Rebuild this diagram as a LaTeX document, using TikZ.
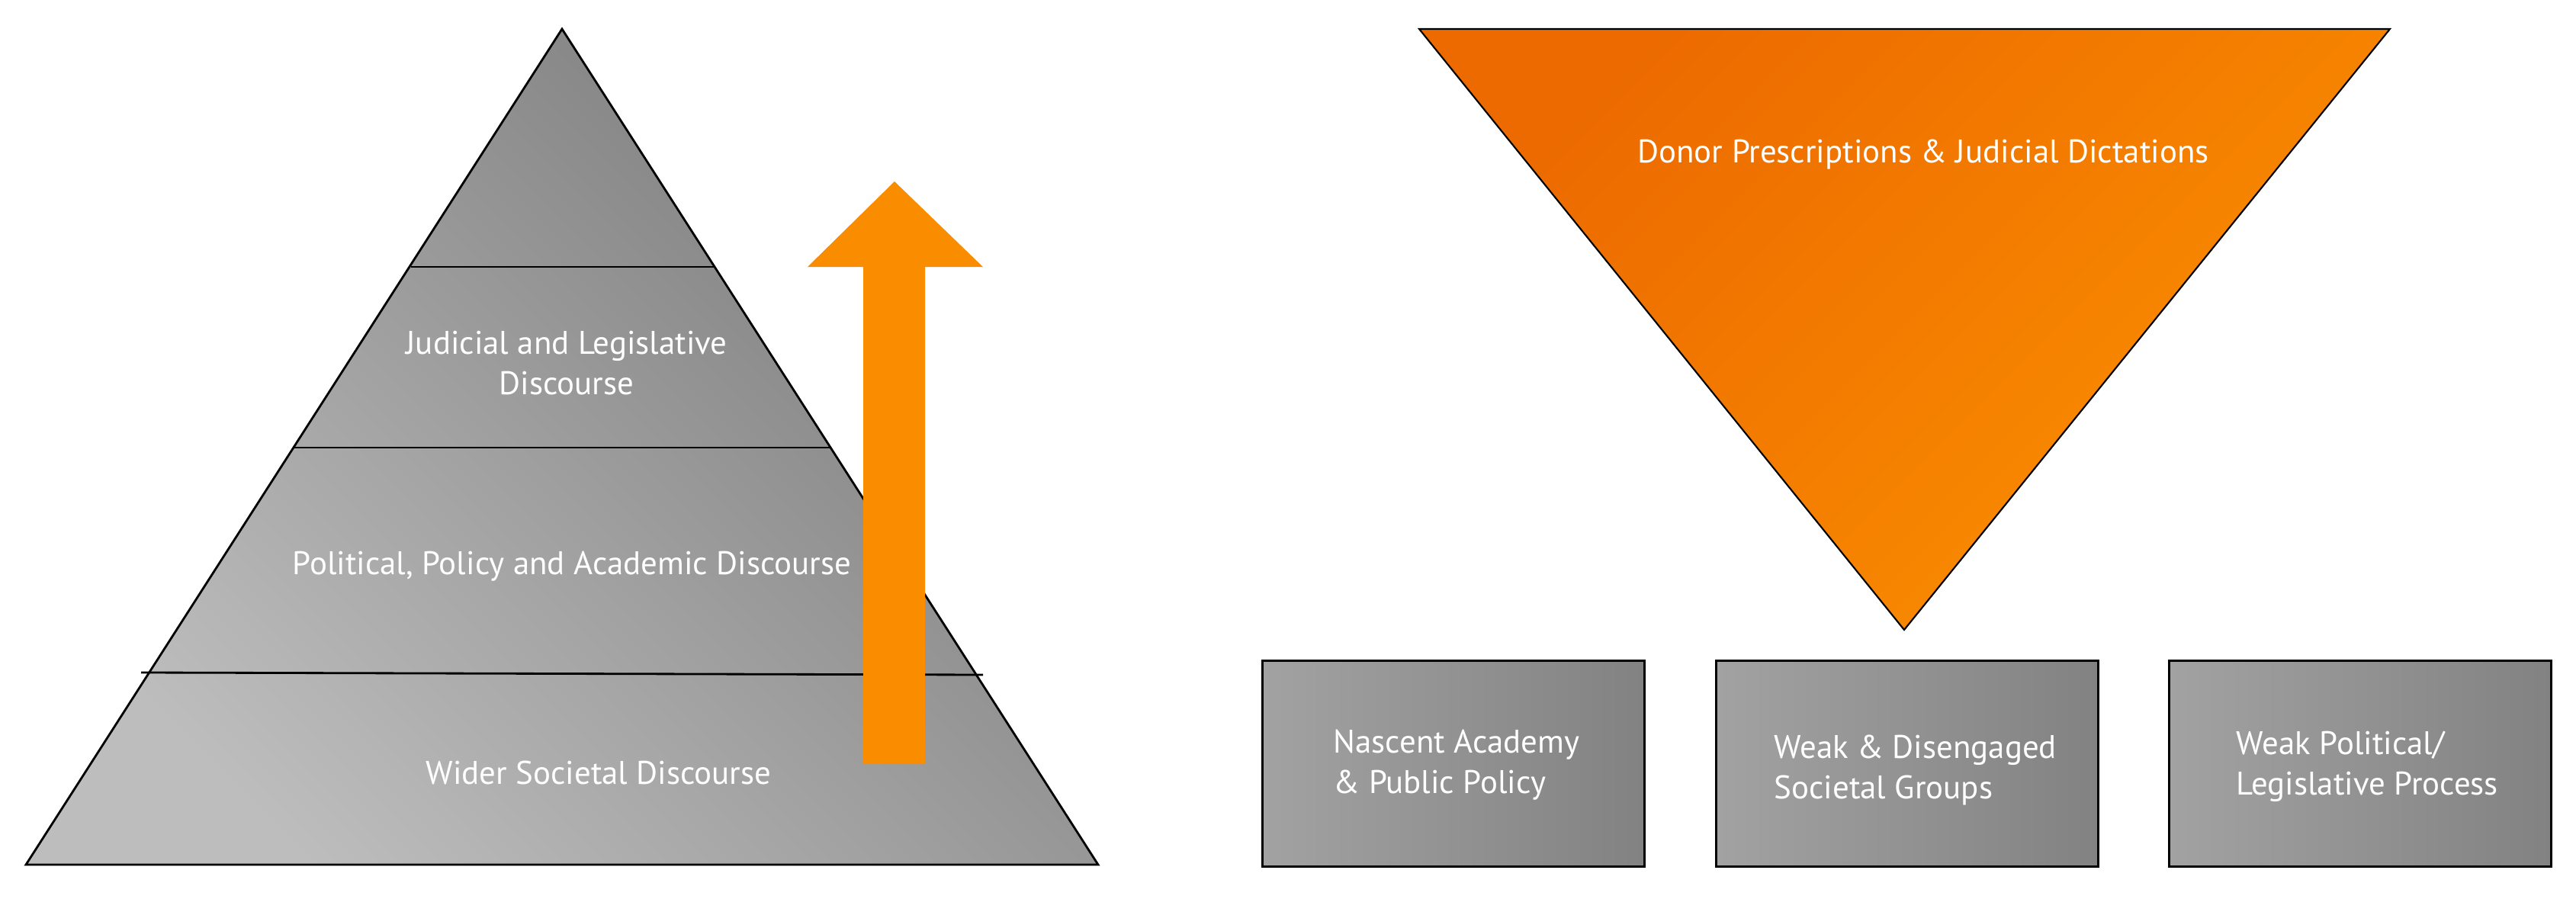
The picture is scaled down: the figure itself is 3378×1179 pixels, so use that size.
\documentclass[tikz,border=0pt]{standalone}
\usepackage{fontspec}
\setmainfont{PT Sans}
\definecolor{pyrL}{HTML}{BDBDBD}
\definecolor{pyrD}{HTML}{7C7C7C}
\definecolor{boxL}{HTML}{A2A2A2}
\definecolor{boxR}{HTML}{828282}
\definecolor{orD}{HTML}{EC6A00}
\definecolor{orL}{HTML}{FB8F00}
\definecolor{arrowC}{HTML}{FA8C00}
\begin{document}
\begin{tikzpicture}[x=0.01cm,y=-0.01cm,
  lbl/.style={text=white, font=\fontsize{12.2}{15}\selectfont, inner sep=0pt, align=center},
  boxlbl/.style={lbl, align=left, anchor=west},
  rule/.style={draw=black, line width=0.8pt},
  gbox/.style={draw=black, line width=0.8pt, left color=boxL, right color=boxR,
    minimum width=5.01cm, minimum height=2.70cm, anchor=north west, inner sep=0pt}]
\useasboundingbox (0,0) rectangle (3378,1179);
% pyramid
\coordinate (apex) at (737,38);
\coordinate (pl) at (34,1134);
\coordinate (pr) at (1440,1134);
\path[rule, bottom color=pyrL, top color=pyrD, shading angle=-45]
  (pl) -- (apex) -- (pr) -- cycle;
\coordinate (l1a) at (539,350); \coordinate (l1b) at (936,350);
\coordinate (l2a) at (385,587); \coordinate (l2b) at (1090,587);
\coordinate (l3a) at (185,882); \coordinate (l3b) at (1289,885);
\draw[rule] (l1a) -- (l1b);
\draw[rule] (l2a) -- (l2b);
\draw[rule] (l3a) -- (l3b);
% arrow
\coordinate (as1) at (1132,1002);
\coordinate (as2) at (1132,350);
\coordinate (ah1) at (1059,350);
\coordinate (atip) at (1173,238);
\coordinate (ah2) at (1289,350);
\coordinate (as3) at (1213,350);
\coordinate (as4) at (1213,1002);
\fill[arrowC] (as1) -- (as2) -- (ah1) -- (atip) -- (ah2) -- (as3) -- (as4) -- cycle;
% pyramid labels
\node[lbl] (jud) at (743,476) {Judicial and Legislative\\Discourse};
\node[lbl] (pol) at (750,743) {Political, Policy and Academic Discourse};
\node[lbl] (wid) at (785,1013) {Wider Societal Discourse};
% inverted triangle
\coordinate (tl) at (1861,38);
\coordinate (tr) at (3134,38);
\coordinate (tb) at (2497,826);
\path[draw=black, line width=0.6pt, top color=orD, bottom color=orL, shading angle=45]
  (tl) -- (tr) -- (tb) -- cycle;
\node[lbl] (donor) at (2522,203) {Donor Prescriptions \& Judicial Dictations};
% boxes
\node[gbox] (b1) at (1654,865) {};
\node[gbox] (b2) at (2249,865) {};
\node[gbox] (b3) at (2843,865) {};
\node[boxlbl] (t1) at (1748,1003) {Nascent Academy\\\& Public Policy};
\node[boxlbl] (t2) at (2326,1010) {Weak \& Disengaged\\Societal Groups};
\node[boxlbl] (t3) at (2932,1005) {Weak Political/\\Legislative Process};
\end{tikzpicture}
\end{document}
